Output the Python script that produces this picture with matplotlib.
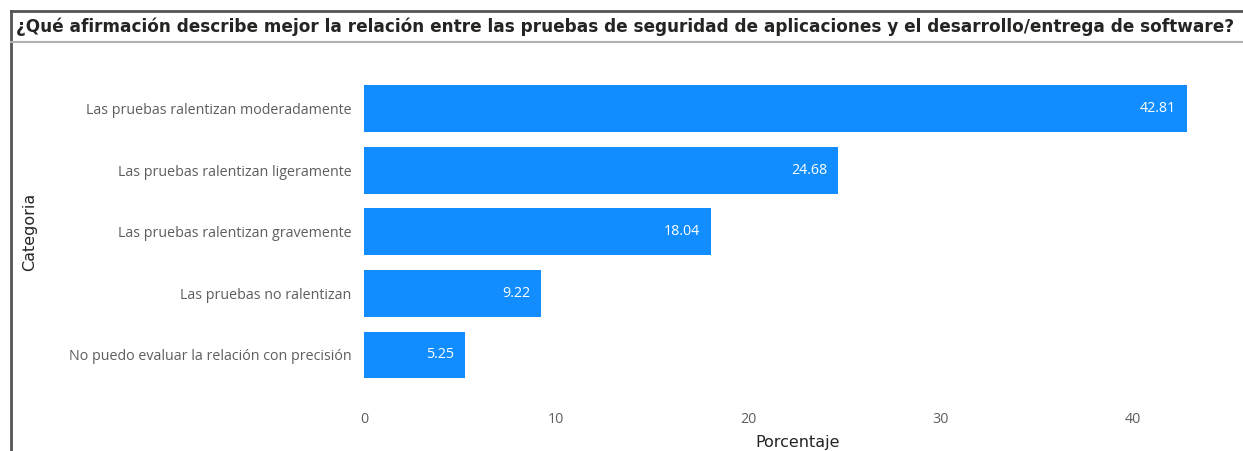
import matplotlib.pyplot as plt
from matplotlib.lines import Line2D

categorias = [
    "Las pruebas ralentizan moderadamente",
    "Las pruebas ralentizan ligeramente",
    "Las pruebas ralentizan gravemente",
    "Las pruebas no ralentizan",
    "No puedo evaluar la relación con precisión",
]
porcentajes = [42.81, 24.68, 18.04, 9.22, 5.25]
ticks_x = [0, 10, 20, 30, 40]

titulo = ("¿Qué afirmación describe mejor la relación entre las pruebas de "
          "seguridad de aplicaciones y el desarrollo/entrega de software?")

W, H = 1243, 451
fig = plt.figure(figsize=(W / 100, H / 100), dpi=100)

# marco del visual: borde izquierdo, borde superior y separador del titulo
fig.add_artist(Line2D([11 / W, 11 / W], [0, 1 - 11 / H], color="#555555", lw=2))
fig.add_artist(Line2D([11 / W, 1], [1 - 11 / H, 1 - 11 / H], color="#555555", lw=2))
fig.add_artist(Line2D([11 / W, 1], [1 - 42 / H, 1 - 42 / H], color="#b0b0b0", lw=1.5))
t = fig.text(16 / W, 1 - 27 / H, titulo, fontsize=14, fontweight="bold",
             family=["Liberation Sans Narrow", "DejaVu Sans"], color="#252423",
             va="center", ha="left")

# ajustar el titulo al ancho disponible
r = fig.canvas.get_renderer()
ancho = t.get_window_extent(r).width
t.set_fontsize(14 * 1220 / ancho)

left, right = 364, 1190.7
top, bottom = 77.7, 385.8
ax = fig.add_axes([left / W, 1 - bottom / H, (right - left) / W, (bottom - top) / H])

y = range(len(categorias))
ax.barh(y, porcentajes, height=0.76, color="#118DFF")
ax.set_xlim(0, 43)
ax.set_ylim(len(categorias) - 0.5, -0.5)

for i, v in enumerate(porcentajes):
    ax.text(v - 0.55, i, f"{v:.2f}", color="white", fontsize=10.3,
            family="Open Sans", ha="right", va="center")

ax.set_yticks(list(y))
ax.set_yticklabels(categorias, fontsize=10.3, family="Open Sans", color="#605E5C")
ax.set_xticks(ticks_x)
ax.set_xticklabels([str(t) for t in ticks_x], fontsize=10.3, family="Open Sans",
                   color="#605E5C")
ax.tick_params(axis="both", length=0)
ax.tick_params(axis="y", pad=9)
ax.tick_params(axis="x", pad=19)
for s in ax.spines.values():
    s.set_visible(False)

fig.text(798 / W, 1 - 442 / H, "Porcentaje", fontsize=11.5, family="DejaVu Sans",
         color="#252423", ha="center", va="center")
fig.text(30 / W, 1 - 232 / H, "Categoria", fontsize=11.5, family="DejaVu Sans",
         color="#252423", ha="center", va="center", rotation=90)

fig.savefig("out.png", dpi=100)
